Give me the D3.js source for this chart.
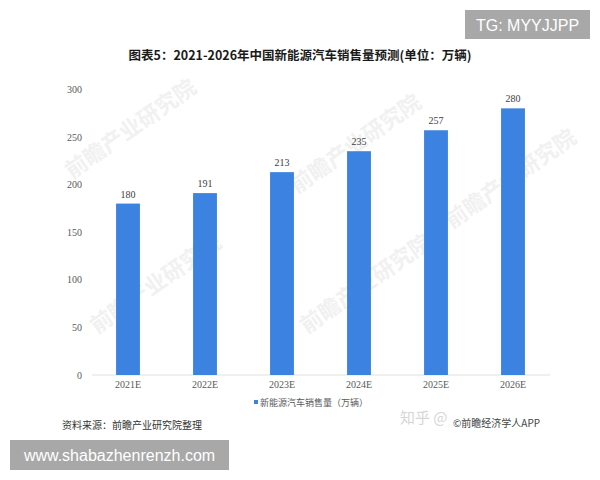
<!DOCTYPE html>
<html><head><meta charset="utf-8">
<script src="https://cdn.jsdelivr.net/npm/d3@7"></script>
<style>body{margin:0;background:#fff}</style>
</head><body>
<svg id="c" width="600" height="480"></svg>
<script>
const categories = ["2021E","2022E","2023E","2024E","2025E","2026E"];
const sales = [180,191,213,235,257,280];
const yTicks = [0,50,100,150,200,250,300];

const svg = d3.select("#c");
const serif = "'Liberation Serif','DejaVu Serif',serif";
const cjk = "'Noto Sans CJK SC','Noto Sans',sans-serif";

// faint watermarks
const wm = [[135,135],[360,150],[515,185],[160,290],[370,290]];
wm.forEach(([x,y])=>{
  svg.append("text").attr("x",x).attr("y",y).attr("text-anchor","middle")
    .attr("transform",`rotate(-35,${x},${y})`)
    .attr("font-family",cjk).attr("font-size",22).attr("font-weight","bold")
    .attr("fill","#f1f1f1").text("前瞻产业研究院");
});

const x = d3.scaleBand().domain(categories).range([89.5,551.5]).paddingInner(0.69).paddingOuter(0.345);
const y = d3.scaleLinear().domain([0,300]).range([375,89.3]);

// title
svg.append("text").attr("x",300).attr("y",59.5).attr("text-anchor","middle")
  .attr("font-family",cjk).attr("font-size",12.5).attr("font-weight","bold").attr("fill","#1a1a1a")
  .text("图表5：2021-2026年中国新能源汽车销售量预测(单位：万辆)");

// y axis
const yAxis = d3.axisLeft(y).tickValues(yTicks).tickSize(0).tickPadding(0);
const gy = svg.append("g").attr("transform","translate(82,0)").call(yAxis);
gy.select(".domain").remove();
gy.selectAll("text").attr("font-family",serif).attr("font-size",10).attr("fill","#595959");

// x axis
const xAxis = d3.axisBottom(x).tickSize(0).tickPadding(6);
const gx = svg.append("g").attr("transform","translate(0,375)").call(xAxis);
gx.select(".domain").attr("d","M92,0H550").attr("stroke","#e0e0e0");
gx.selectAll("text").attr("font-family",serif).attr("font-size",10).attr("fill","#595959");

// bars
svg.selectAll("rect.bar").data(sales).join("rect").attr("class","bar")
  .attr("x",(d,i)=>x(categories[i])).attr("width",x.bandwidth())
  .attr("y",d=>y(d)).attr("height",d=>y(0)-y(d)).attr("fill","#3c82e0");

svg.selectAll("text.lbl").data(sales).join("text").attr("class","lbl")
  .attr("x",(d,i)=>x(categories[i])+x.bandwidth()/2).attr("y",d=>y(d)-6)
  .attr("text-anchor","middle").attr("font-family",serif).attr("font-size",10).attr("fill","#404040")
  .text(d=>d);

// legend
svg.append("rect").attr("x",254).attr("y",400).attr("width",4).attr("height",4).attr("fill","#3c82e0");
svg.append("text").attr("x",260).attr("y",405.5).attr("font-family",cjk).attr("font-size",9).attr("fill","#595959")
  .text("新能源汽车销售量（万辆）");

// source
svg.append("text").attr("x",62).attr("y",428.5).attr("font-family",cjk).attr("font-size",10).attr("fill","#333")
  .text("资料来源：前瞻产业研究院整理");

// zhihu watermark
svg.append("text").attr("x",400).attr("y",423).attr("font-family",cjk).attr("font-size",15).attr("fill","#d6d6d6")
  .text("知乎 @");
svg.append("text").attr("x",453).attr("y",427).attr("font-family",cjk).attr("font-size",10).attr("fill","#444")
  .text("©前瞻经济学人APP");

// TG box
svg.append("rect").attr("x",465).attr("y",10).attr("width",125).attr("height",29).attr("fill","#a8a8a8");
svg.append("text").attr("x",527.5).attr("y",30.5).attr("text-anchor","middle")
  .attr("font-family","'Liberation Sans',Arial,sans-serif").attr("font-size",16).attr("fill","#fff").text("TG: MYYJJPP");

// url box
svg.append("rect").attr("x",10).attr("y",440).attr("width",219).attr("height",30).attr("fill","#a8a8a8");
svg.append("text").attr("x",119.5).attr("y",461).attr("text-anchor","middle")
  .attr("font-family","'Liberation Sans',Arial,sans-serif").attr("font-size",16).attr("fill","#fff").text("www.shabazhenrenzh.com");
</script>
</body></html>
